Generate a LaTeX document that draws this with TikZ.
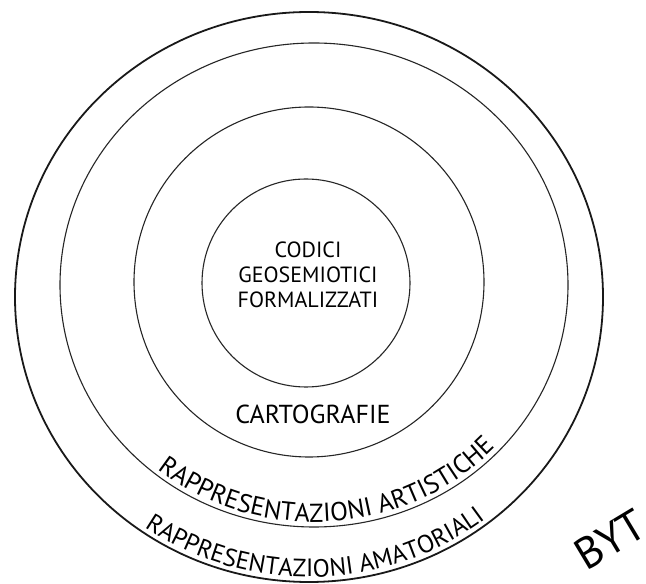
\documentclass[tikz,border=0pt]{standalone}
\usepackage{fontspec}
\setmainfont{PT Sans}
\usetikzlibrary{decorations.text}
\begin{document}
\begin{tikzpicture}[x=1pt,y=1pt,
  ring/.style={draw=black!85, line width=1.1pt},
  outerring/.style={draw=black!90, line width=1.8pt},
  lbl/.style={text=black, inner sep=0pt}]
\useasboundingbox (0,0) rectangle (646,584);
\fill[white] (0,0) rectangle (646,584);
% rings
\draw[ring] (306,301) circle[radius=104];
\draw[ring] (309,302) circle[radius=175];
\draw[ring] (314,299) ellipse[x radius=254, y radius=242];
\draw[outerring] (309,287) ellipse[x radius=294, y radius=285];
% labels
\node[lbl, align=center, font=\fontsize{22}{25}\selectfont] (codici) at (308,309)
  {CODICI\\GEOSEMIOTICI\\FORMALIZZATI};
\node[lbl, anchor=base, font=\fontsize{26}{26}\selectfont] (carto) at (313,160) {CARTOGRAFIE};
\path[decorate, decoration={text along path, text align=center,
  text={|\fontsize{26}{26}\selectfont\color{black}|RAPPRESENTAZIONI ARTISTICHE}}]
  (314,299) ++(184:249 and 237) arc[start angle=184, end angle=364, x radius=249, y radius=237];
\path[decorate, decoration={text along path, text align=center,
  text={|\fontsize{25}{25}\selectfont\color{black}|RAPPRESENTAZIONI AMATORIALI}}]
  (309,287) ++(181.5:289 and 280) arc[start angle=181.5, end angle=361.5, x radius=289, y radius=280];
\node[lbl, anchor=base west, rotate=31, font=\fontsize{44}{44}\selectfont] (byt) at (586,12) {BYT};
\end{tikzpicture}
\end{document}
